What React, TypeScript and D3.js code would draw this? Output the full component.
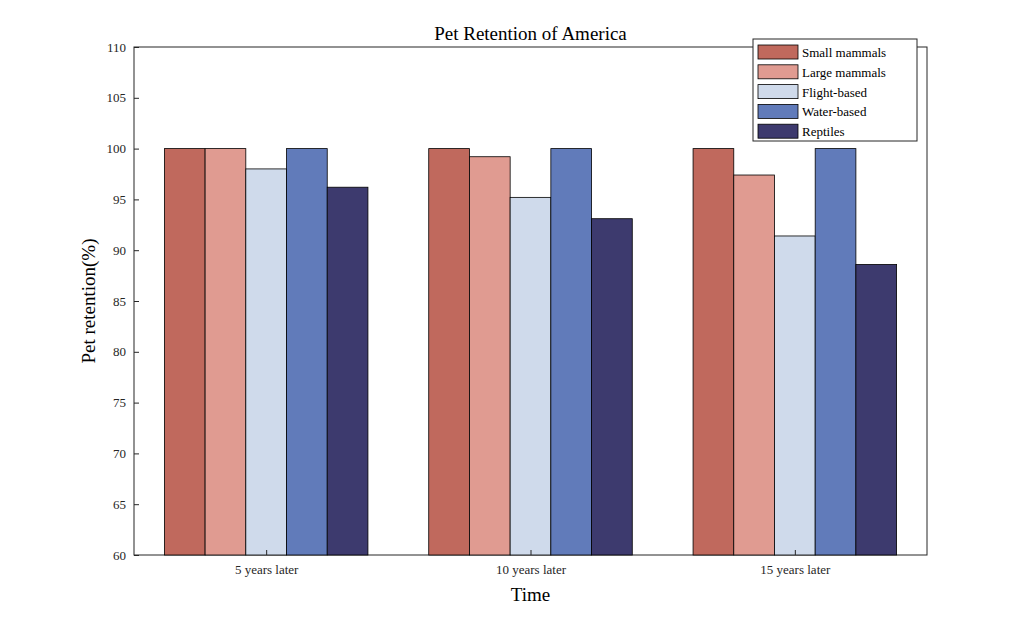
import React, { useEffect, useRef } from "react";
import * as d3 from "d3";

const groups = ["5 years later", "10 years later", "15 years later"];
const seriesNames = ["Small mammals", "Large mammals", "Flight-based", "Water-based", "Reptiles"];
const seriesColors = ["#c0695d", "#e09b91", "#cfdaeb", "#617bba", "#3d3a6e"];
const smallMammals = [100, 100, 100];
const largeMammals = [100, 99.2, 97.4];
const flightBased = [98, 95.2, 91.4];
const waterBased = [100, 100, 100];
const reptiles = [96.2, 93.1, 88.6];
const seriesValues = [smallMammals, largeMammals, flightBased, waterBased, reptiles];
const yTicks = d3.range(60, 111, 5);

export default function App() {
  const ref = useRef<SVGSVGElement>(null);

  useEffect(() => {
    if (!ref.current) return;
    const svg = d3.select(ref.current);
    svg.selectAll("*").remove();
    const font = "'Liberation Serif', 'Times New Roman', serif";
    const m = { left: 134, right: 927, top: 47, bottom: 555 };

    const x = d3.scaleLinear().domain([0.5, 3.5]).range([m.left, m.right]);
    const y = d3.scaleLinear().domain([60, 110]).range([m.bottom, m.top]);
    const groupW = (x(2) - x(1)) * 0.77;
    const barW = groupW / seriesNames.length;

    svg.append("rect").attr("x", m.left).attr("y", m.top)
      .attr("width", m.right - m.left).attr("height", m.bottom - m.top)
      .attr("fill", "white").attr("stroke", "#262626").attr("stroke-width", 1);

    seriesValues.forEach((vals, si) => {
      svg.append("g").selectAll("rect").data(vals).enter().append("rect")
        .attr("x", (_, gi) => x(gi + 1) - groupW / 2 + si * barW)
        .attr("y", (d) => y(d))
        .attr("width", barW)
        .attr("height", (d) => y(60) - y(d))
        .attr("fill", seriesColors[si])
        .attr("stroke", "#000").attr("stroke-width", 0.8);
    });

    const yAxis = svg.append("g").attr("transform", `translate(${m.left},0)`)
      .call(d3.axisLeft(y).tickValues(yTicks).tickSize(-5).tickPadding(8).tickFormat(d3.format("d")));
    yAxis.select(".domain").remove();
    yAxis.selectAll("line").attr("stroke", "#262626");
    yAxis.selectAll("text").attr("font-family", font).attr("font-size", 13).attr("fill", "#262626");

    const xAxis = svg.append("g").attr("transform", `translate(0,${m.bottom})`)
      .call(d3.axisBottom(x).tickValues([1, 2, 3]).tickSize(-5).tickPadding(10)
        .tickFormat((d) => groups[(d as number) - 1]));
    xAxis.select(".domain").remove();
    xAxis.selectAll("line").attr("stroke", "#262626");
    xAxis.selectAll("text").attr("font-family", font).attr("font-size", 13).attr("fill", "#262626");

    svg.append("text").attr("x", (m.left + m.right) / 2).attr("y", 40)
      .attr("text-anchor", "middle").attr("font-family", font).attr("font-size", 19).text("Pet Retention of America");
    svg.append("text").attr("x", (m.left + m.right) / 2).attr("y", 601)
      .attr("text-anchor", "middle").attr("font-family", font).attr("font-size", 19).text("Time");
    svg.append("text").attr("transform", `translate(95,${(m.top + m.bottom) / 2}) rotate(-90)`)
      .attr("text-anchor", "middle").attr("font-family", font).attr("font-size", 19).text("Pet retention(%)");

    const lg = svg.append("g").attr("transform", "translate(753,39)");
    lg.append("rect").attr("width", 164).attr("height", 102).attr("fill", "white").attr("stroke", "#262626");
    seriesNames.forEach((name, i) => {
      const yy = 6 + i * 19.8;
      lg.append("rect").attr("x", 5).attr("y", yy).attr("width", 40).attr("height", 14)
        .attr("fill", seriesColors[i]).attr("stroke", "#000").attr("stroke-width", 0.8);
      lg.append("text").attr("x", 49).attr("y", yy + 12).attr("font-family", font)
        .attr("font-size", 13).attr("fill", "#000").text(name);
    });
  }, []);

  return <svg ref={ref} width={1024} height={625} style={{ position: "absolute", left: 0, top: 0, background: "white" }} />;
}
